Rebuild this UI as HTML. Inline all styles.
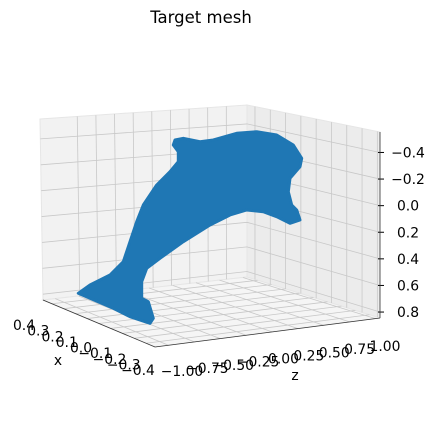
<!DOCTYPE html>
<html><head><meta charset="utf-8"><style>
body{margin:0;background:#fff}
svg{display:block;font-family:"DejaVu Sans","Liberation Sans",sans-serif}
</style></head><body>
<svg id="c" width="436" height="423" viewBox="0 0 436 423">
<text x="201" y="23" font-size="16.5" text-anchor="middle">Target mesh</text>
<g id="panes"></g>
<path fill="#1f77b4" stroke="#1f77b4" stroke-width="3" stroke-linejoin="round" d="M78.3,293.3 L90,298.3 L113.3,308.3 L130,316.7 L150,323.3 L153.3,318.3 L148.3,301.7 L141.7,298.3 L141.7,281.7 L146.7,268.3 L160,258.3 L183.3,241.7 L210,225 L230,215 L246.7,210 L263.3,211.7 L276.7,216.7 L290,223.3 L300,220 L296.7,210 L291.7,205 L288.3,191.7 L290,178.3 L300,166.7 L301.7,158.3 L293.3,145 L276.7,135 L256.7,131.7 L236.7,133.3 L213.3,140 L200,141.7 L183.3,138.3 L175,140 L173.3,145 L178.3,151.7 L178.3,161.7 L170,171.7 L156.7,185 L143.3,205 L136.7,221.7 L130,241.7 L123.3,261.7 L110,275 L90,285 Z"/>
<g id="labels"></g>
</svg>
<script>
const zTicks=["−0.4","−0.2","0.0","0.2","0.4","0.6","0.8"];
const xTicks=["0.4","0.3","0.2","0.1","0.0","−0.1","−0.2","−0.3","−0.4"];
const zzTicks=["−1.00","−0.75","−0.50","−0.25","0.00","0.25","0.50","0.75","1.00"];
const NS="http://www.w3.org/2000/svg";
const P=document.getElementById('panes'),L=document.getElementById('labels');
function mk(p,tag,a){const e=document.createElementNS(NS,tag);for(const k in a)e.setAttribute(k,a[k]);p.appendChild(e);return e;}
function lerp(a,b,t){return [a[0]+(b[0]-a[0])*t,a[1]+(b[1]-a[1])*t];}
const LT=[40,119],BT=[247,105],BB=[247,277],LB=[43,300],RT=[380,132],RB=[380,318],FB=[155,347];
const FS=13.9;
let e;
e=mk(P,'polygon',{points:[LT,BT,BB,LB].join(' '),fill:'#f2f2f2',stroke:'#e6e6e6'});

e=mk(P,'polygon',{points:[BT,RT,RB,BB].join(' '),fill:'#ececec',stroke:'#e6e6e6'});

e=mk(P,'polygon',{points:[LB,BB,RB,FB].join(' '),fill:'#f5f5f5',stroke:'#e6e6e6'});

const g='#c8c8c8';
zTicks.forEach((t,i)=>{const f=0.11+i*0.143;
 const a=lerp(LT,LB,f),b=lerp(BT,BB,f),c=lerp(RT,RB,f);
 e=mk(P,'polyline',{points:[a,b,c].join(' '),fill:'none',stroke:g,'stroke-width':0.8});
 
 const tk=lerp(RT,RB,f);
 e=mk(L,'line',{x1:tk[0]-2,y1:tk[1],x2:tk[0]+4,y2:tk[1],stroke:'#000'});
 
 e=mk(L,'text',{x:408,y:tk[1]+5,'font-size':FS,'text-anchor':'middle'});e.textContent=t;
 
});
xTicks.forEach((t,i)=>{const f=0.18+i*0.09;
 const top=lerp(LT,BT,f),bot=lerp(LB,BB,f);
 e=mk(P,'line',{x1:top[0],y1:top[1],x2:bot[0],y2:bot[1],stroke:g,'stroke-width':0.8});
 
});
xTicks.forEach((t,i)=>{const f=0.08+i*0.105;
 const a=lerp(LB,FB,f),b=lerp(BB,RB,f);
 e=mk(P,'line',{x1:a[0],y1:a[1],x2:b[0],y2:b[1],stroke:g,'stroke-width':0.8});
 
 const p=lerp([24,325],[138,370],i/(xTicks.length-1));
 e=mk(L,'text',{x:p[0],y:p[1]+5,'font-size':FS,'text-anchor':'middle'});e.textContent=t;
 
});
zzTicks.forEach((t,i)=>{const f=0.06+i*0.115;
 const a=lerp(LB,BB,f),b=lerp(FB,RB,f),top=lerp(BT,RT,f),bb=lerp(BB,RB,f);
 e=mk(P,'line',{x1:a[0],y1:a[1],x2:b[0],y2:b[1],stroke:g,'stroke-width':0.8});
 
 e=mk(P,'line',{x1:top[0],y1:top[1],x2:bb[0],y2:bb[1],stroke:g,'stroke-width':0.8});
 
 const p=lerp([182,371],[385,346],i/(zzTicks.length-1));
 e=mk(L,'text',{x:p[0],y:p[1]+5,'font-size':FS,'text-anchor':'middle'});e.textContent=t;
 
});
e=mk(L,'polyline',{points:[LB,FB,RB].join(' '),fill:'none',stroke:'#333','stroke-width':0.8});

e=mk(L,'line',{x1:RT[0],y1:RT[1],x2:RB[0],y2:RB[1],stroke:'#333','stroke-width':0.8});

e=mk(L,'text',{x:58,y:365,'font-size':FS,'text-anchor':'middle'});e.textContent='x';

e=mk(L,'text',{x:295,y:380,'font-size':FS,'text-anchor':'middle'});e.textContent='z';

</script>
</body></html>
